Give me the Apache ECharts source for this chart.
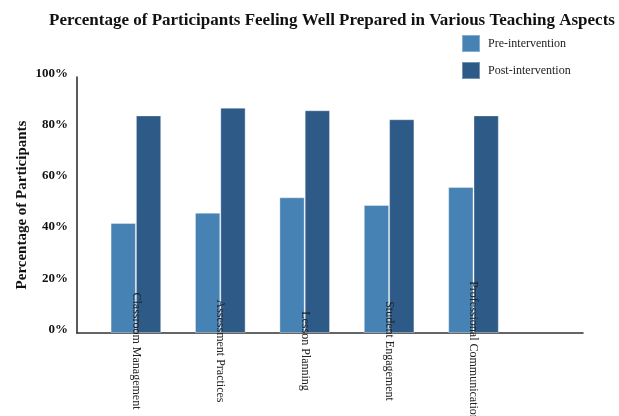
<!DOCTYPE html>
<html>
<head>
<meta charset="utf-8">
<title>Well Prepared</title>
<script src="https://cdn.jsdelivr.net/npm/echarts@6/dist/echarts.min.js"></script>
<style>
  html, body { margin: 0; padding: 0; background: #fff; }
  #main { width: 619px; height: 416px; }
</style>
</head>
<body>
<div id="main"></div>
<script>
// data
var categories = ['Classroom Management', 'Assessment Practices', 'Lesson Planning', 'Student Engagement', 'Professional Communication'];
var preValues = [43, 47, 53, 50, 57];
var postValues = [85, 88, 87, 83.5, 85];
var seriesNames = ['Pre-intervention', 'Post-intervention'];
var colors = ['#4682b4', '#2e5a87'];

var font = '"Liberation Serif", "Times New Roman", serif';

var myChart = echarts.init(document.getElementById('main'));

var option = {
    animation: false,
    textStyle: { fontFamily: font },
    title: {
        text: 'Percentage of Participants Feeling Well Prepared in Various Teaching Aspects',
        left: 332,
        textAlign: 'center',
        top: 12,
        padding: 0,
        textStyle: { fontFamily: font, fontSize: 17, fontWeight: 'bold', color: '#111' }
    },
    legend: {
        orient: 'vertical',
        left: 461,
        top: 34,
        padding: 0,
        itemWidth: 18,
        itemHeight: 17,
        itemGap: 8,
        icon: 'rect',
        data: seriesNames,
        textStyle: { fontFamily: font, fontSize: 12, color: '#222', padding: [0, 0, 0, 3] }
    },
    // grid 0 holds the axis lines, grid 1 holds the bars
    grid: [
        { left: 77, right: 36, top: 77, bottom: 83, outerBoundsMode: 'none', containLabel: false },
        { left: 93.7, width: 422, top: 77, bottom: 83, outerBoundsMode: 'none', containLabel: false }
    ],
    xAxis: [
        {
            type: 'value', gridIndex: 0, min: 0, max: 1,
            axisLine: { show: true, onZero: false, lineStyle: { color: '#333', width: 1.6 } },
            axisTick: { show: false }, axisLabel: { show: false }, splitLine: { show: false }
        },
        {
            type: 'category', gridIndex: 1, data: categories, z: 5,
            axisLine: { show: false }, axisTick: { show: false },
            axisLabel: {
                interval: 0, rotate: -90, margin: 18, align: 'center', verticalAlign: 'middle',
                fontFamily: font, fontSize: 12, color: '#222'
            }
        }
    ],
    yAxis: [
        {
            type: 'value', gridIndex: 0, min: 0, max: 100, interval: 20,
            name: 'Percentage of Participants',
            nameLocation: 'middle', nameGap: 47, nameMoveOverlap: false,
            nameTextStyle: { fontFamily: font, fontSize: 15, fontWeight: 'bold', color: '#111' },
            axisLine: { show: true, lineStyle: { color: '#333', width: 1.6 } },
            axisTick: { show: false },
            splitLine: { show: false },
            axisLabel: {
                formatter: '{v|{value}%}', margin: 9,
                rich: { v: { padding: [0, 0, 7, 0], fontFamily: font, fontSize: 13, fontWeight: 'bold', color: '#111' } }
            }
        },
        {
            type: 'value', gridIndex: 1, min: 0, max: 100, show: false
        }
    ],
    series: [
        {
            name: seriesNames[0], type: 'bar', xAxisIndex: 1, yAxisIndex: 1,
            data: preValues, barGap: '0%', barCategoryGap: '40%',
            itemStyle: { color: colors[0], borderColor: 'rgba(255,255,255,0.35)', borderWidth: 1 }
        },
        {
            name: seriesNames[1], type: 'bar', xAxisIndex: 1, yAxisIndex: 1,
            data: postValues, barGap: '0%', barCategoryGap: '40%',
            itemStyle: { color: colors[1], borderColor: 'rgba(255,255,255,0.35)', borderWidth: 1 }
        }
    ]
};

myChart.setOption(option);
</script>
</body>
</html>
